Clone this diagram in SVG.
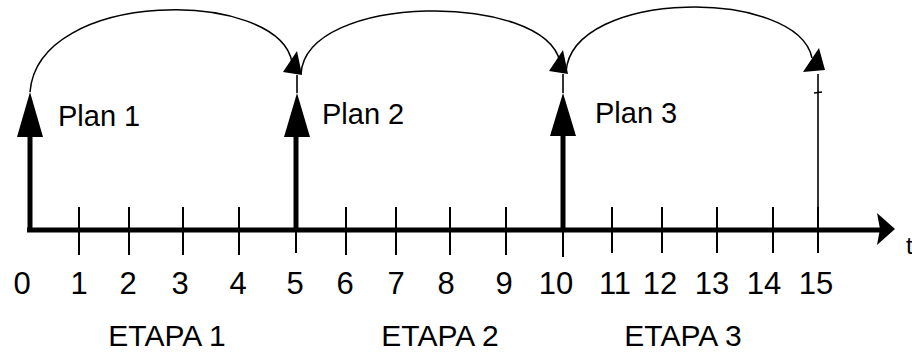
<svg xmlns="http://www.w3.org/2000/svg" width="912" height="353" viewBox="0 0 912 353">
<style>
text{font-family:"Liberation Sans",Arial,sans-serif;fill:#000}
.lbl{font-size:29px}
.num{font-size:31px;text-anchor:middle}
.etapa{font-size:30px;text-anchor:middle}
.arc{fill:none;stroke:#000;stroke-width:1.5}
.thick{stroke:#000;stroke-width:5;fill:none}
.tick{stroke:#000;stroke-width:2}
.thin{stroke:#000;stroke-width:1.6}
.head{fill:#000}
</style>
<rect width="912" height="353" fill="#fff"/>
<g id="axis">
<line class="thick" x1="27" y1="230" x2="880" y2="230"/>
<polygon class="head" points="895,229 877,213 880,229 877,245"/>
<line class="tick" x1="79" y1="207" x2="79" y2="255"/>
<line class="tick" x1="129" y1="207" x2="129" y2="255"/>
<line class="tick" x1="183" y1="207" x2="183" y2="255"/>
<line class="tick" x1="239" y1="207" x2="239" y2="255"/>
<line class="tick" x1="296" y1="207" x2="296" y2="253"/>
<line class="tick" x1="346" y1="207" x2="346" y2="255"/>
<line class="tick" x1="396" y1="207" x2="396" y2="255"/>
<line class="tick" x1="450" y1="207" x2="450" y2="255"/>
<line class="tick" x1="506" y1="207" x2="506" y2="255"/>
<line class="tick" x1="563" y1="207" x2="563" y2="257"/>
<line class="tick" x1="612" y1="207" x2="612" y2="253"/>
<line class="tick" x1="662" y1="207" x2="662" y2="253"/>
<line class="tick" x1="717" y1="207" x2="717" y2="253"/>
<line class="tick" x1="773" y1="207" x2="773" y2="253"/>
<line class="tick" x1="818" y1="207" x2="818" y2="253"/>
<text x="906" y="254" style="font-size:24px">t</text>
</g>
<g id="numbers">
<text class="num" x="22" y="294">0</text>
<text class="num" x="79" y="294">1</text>
<text class="num" x="128" y="294">2</text>
<text class="num" x="180" y="294">3</text>
<text class="num" x="238" y="294">4</text>
<text class="num" x="295" y="294">5</text>
<text class="num" x="345" y="294">6</text>
<text class="num" x="396" y="294">7</text>
<text class="num" x="446" y="294">8</text>
<text class="num" x="504" y="294">9</text>
<text class="num" x="556" y="294">10</text>
<text class="num" x="615" y="294">11</text>
<text class="num" x="660" y="294">12</text>
<text class="num" x="712" y="294">13</text>
<text class="num" x="764" y="294">14</text>
<text class="num" x="816" y="294">15</text>
</g>
<g id="plan1">
<line class="thick" x1="30" y1="230" x2="30" y2="130"/>
<polygon class="head" points="30,92 17,137 43,137"/>
<text class="lbl" x="58" y="126">Plan 1</text>
</g>
<g id="plan2">
<line class="thick" x1="296" y1="230" x2="296" y2="130"/>
<polygon class="head" points="297,93 284,137 310,137"/>
<text class="lbl" x="322" y="124">Plan 2</text>
</g>
<g id="plan3">
<line class="thick" x1="563" y1="230" x2="563" y2="130"/>
<polygon class="head" points="563,93 550,136 576,136"/>
<text class="lbl" x="595" y="123">Plan 3</text>
</g>
<g id="end15">
<line class="thin" x1="818" y1="230" x2="818" y2="74"/>
<line class="thin" x1="814" y1="93" x2="822" y2="92"/>
</g>
<g id="stages">
<text class="etapa" x="167" y="346">ETAPA 1</text>
<text class="etapa" x="440" y="346">ETAPA 2</text>
<text class="etapa" x="683" y="346">ETAPA 3</text>
</g>
<g id="connectors">
<path class="arc" d="M30,92 C38,-12 278,-12 292,62"/>
<polygon class="head" points="297,51 283,72 302,75"/>
<line class="thin" x1="297" y1="75" x2="297" y2="93"/>
<path class="arc" d="M301,74 C306,-8 545,-8 560,62"/>
<polygon class="head" points="563,50 549,71 568,74"/>
<line class="thin" x1="563" y1="74" x2="563" y2="93"/>
<path class="arc" d="M566,72 C572,-12 798,-12 812,58"/>
<polygon class="head" points="819,48 803,72 825,70"/>
</g>
</svg>
